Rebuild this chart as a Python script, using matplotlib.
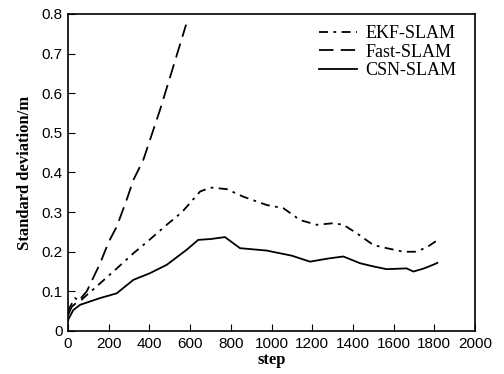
import numpy as np
from matplotlib import pyplot as plt

# values
ekf_x = [0, 10, 34, 60, 75, 157, 240, 321, 400, 485, 560, 649, 700, 780, 861, 976, 1058, 1140, 1222, 1304, 1353, 1418, 1500, 1566, 1648, 1705, 1760, 1803, 1815]
ekf_y = [0.05, 0.061, 0.083, 0.075, 0.083, 0.12, 0.158, 0.196, 0.23, 0.268, 0.30, 0.352, 0.362, 0.358, 0.339, 0.318, 0.31, 0.28, 0.268, 0.272, 0.268, 0.247, 0.217, 0.209, 0.2, 0.2, 0.21, 0.225, 0.228]

fast_x = [0, 18, 50, 92, 157, 200, 239, 288, 321, 370, 452, 517, 580]
fast_y = [0.04, 0.061, 0.075, 0.1, 0.17, 0.225, 0.263, 0.331, 0.381, 0.432, 0.558, 0.667, 0.773]

csn_x = [0, 2, 26, 59, 157, 239, 321, 403, 485, 583, 640, 700, 771, 845, 976, 1100, 1189, 1280, 1353, 1435, 1500, 1566, 1664, 1697, 1750, 1803, 1815]
csn_y = [0.025, 0.03, 0.053, 0.066, 0.083, 0.095, 0.129, 0.146, 0.167, 0.205, 0.23, 0.232, 0.237, 0.209, 0.203, 0.19, 0.175, 0.183, 0.188, 0.171, 0.163, 0.156, 0.158, 0.15, 0.158, 0.169, 0.172]

xticks = np.arange(0, 2001, 200)
yticks = [0, 0.1, 0.2, 0.3, 0.4, 0.5, 0.6, 0.7, 0.8]
yticklabels = ['0', '0.1', '0.2', '0.3', '0.4', '0.5', '0.6', '0.7', '0.8']

fig = plt.figure(figsize=(5.04, 3.74), dpi=100)
ax = fig.add_axes([0.135, 0.115, 0.8075, 0.8476])

ax.plot(ekf_x, ekf_y, color='k', lw=1.3, linestyle=(0, (5, 3, 1.5, 3)), label='EKF-SLAM')
ax.plot(fast_x, fast_y, color='k', lw=1.3, linestyle=(0, (8, 4)), label='Fast-SLAM')
ax.plot(csn_x, csn_y, color='k', lw=1.3, label='CSN-SLAM')

ax.set_xlim(0, 2000)
ax.set_ylim(0, 0.8)
ax.set_xticks(xticks)
ax.set_yticks(yticks)
ax.set_yticklabels(yticklabels)
ax.tick_params(direction='in', length=5, labelsize=11, top=False, right=False, pad=4)
for lab in ax.get_xticklabels() + ax.get_yticklabels():
    lab.set_family('Liberation Sans')
for s in ax.spines.values():
    s.set_linewidth(1.2)

ax.set_xlabel('step', family='Liberation Serif', fontweight='bold', fontsize=12, labelpad=1)
ax.set_ylabel('Standard deviation/m', family='Liberation Serif', fontweight='bold', fontsize=12, labelpad=6)

leg = ax.legend(loc='upper right', frameon=False, prop={'family': 'Liberation Serif', 'size': 13},
                handlelength=2.15, labelspacing=0.1, borderaxespad=0.2, handletextpad=0.42,
                bbox_to_anchor=(0.98, 1.0))

plt.savefig('out.png', dpi=100)
